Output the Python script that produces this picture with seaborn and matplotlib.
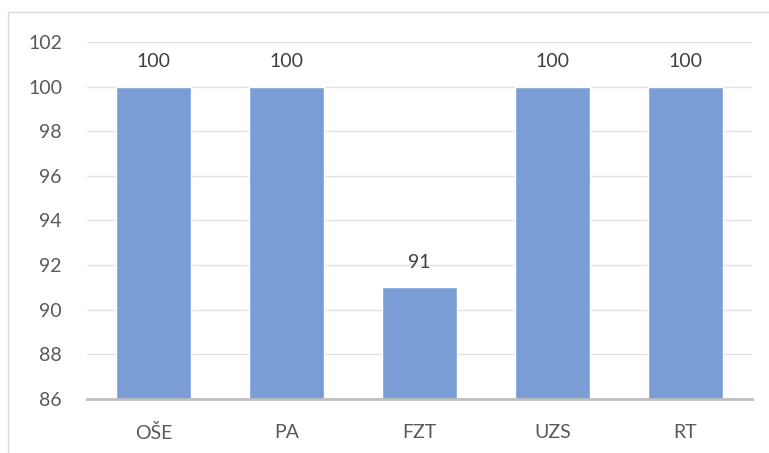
import matplotlib
matplotlib.use("Agg")
import matplotlib.pyplot as plt
import pandas as pd
import seaborn as sns
from matplotlib.patches import Rectangle

categories = ["OŠE", "PA", "FZT", "UZS", "RT"]
values = [100, 100, 91, 100, 100]
y_ticks = [86, 88, 90, 92, 94, 96, 98, 100, 102]

df = pd.DataFrame({"category": categories, "value": values})

sns.set_theme(style="white")
plt.rcParams["font.family"] = ["Lato", "DejaVu Sans"]

text_color = "#595959"
bar_color = "#7A9DD6"

fig = plt.figure(figsize=(7.69, 4.53), dpi=100)
ax = fig.add_axes([87 / 769, 1 - 399 / 453, (752 - 87) / 769, (399 - 42) / 453])

sns.barplot(data=df, x="category", y="value", color=bar_color, saturation=1,
            width=0.56, ax=ax, zorder=2)

ax.set_ylim(86, 102)
ax.set_yticks(y_ticks)
ax.set_xlim(-0.5, len(categories) - 0.5)
ax.yaxis.grid(True, color="#E3E3E3", linewidth=1, zorder=0)
ax.set_axisbelow(True)

for s in ["top", "right", "left"]:
    ax.spines[s].set_visible(False)
ax.spines["bottom"].set_color("#BFBFBF")
ax.spines["bottom"].set_linewidth(2)
ax.spines["bottom"].set_zorder(3)

ax.tick_params(axis="both", length=0, labelsize=14, colors=text_color)
ax.tick_params(axis="y", pad=18)
ax.tick_params(axis="x", pad=18)
ax.set_xlabel("")
ax.set_ylabel("")

for container in ax.containers:
    ax.bar_label(container, labels=[str(v) for v in values], padding=12,
                 fontsize=14, color="#404040")

fig.patches.append(Rectangle((8 / 769, -0.1), 1.2, 1 - 12 / 453 + 0.1,
                             transform=fig.transFigure, fill=False,
                             edgecolor="#D9D9D9", linewidth=1))

fig.savefig("out.png", dpi=100)
